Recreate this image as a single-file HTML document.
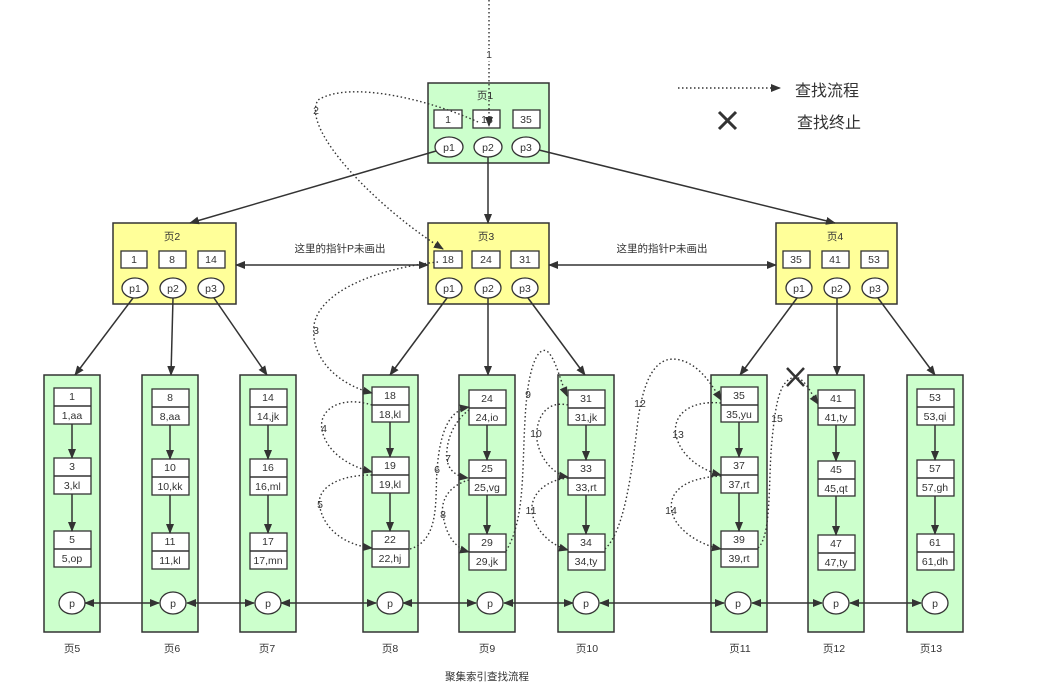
<!DOCTYPE html>
<html><head><meta charset="utf-8"><style>
html,body{margin:0;padding:0;background:#fff;}
svg{display:block;font-family:"Liberation Sans","Noto Sans CJK SC",sans-serif;}
.n{stroke:#333;stroke-width:1.5;}
.g{fill:#ccffcc;}
.y{fill:#ffff99;}
.c{fill:#fff;stroke:#333;stroke-width:1.3;}
.s{stroke:#333;stroke-width:1.5;fill:none;}
.d{stroke:#333;stroke-width:1.4;fill:none;stroke-dasharray:1.5 2.5;}
text{font-size:10.5px;fill:#333;text-anchor:middle;}
</style></head><body>
<svg width="1045" height="685" viewBox="0 0 1045 685">
<defs>
<marker id="a" markerWidth="10" markerHeight="10" refX="9" refY="5" orient="auto" markerUnits="userSpaceOnUse"><path d="M0,1 L10,5 L0,9 Z" fill="#333"/></marker>
<marker id="b" markerWidth="10" markerHeight="10" refX="1" refY="5" orient="auto" markerUnits="userSpaceOnUse"><path d="M10,1 L0,5 L10,9 Z" fill="#333"/></marker>
</defs>

<!-- legend -->
<line x1="678" y1="88" x2="780" y2="88" class="d" marker-end="url(#a)"/>
<text x="827" y="96" style="font-size:16px">查找流程</text>
<path d="M719,112 L736,129 M736,112 L719,129" stroke="#333" stroke-width="3"/>
<text x="829" y="128" style="font-size:16px">查找终止</text>

<!-- page1 -->
<rect x="428" y="83" width="121" height="80" class="n g"/>
<text x="485" y="99">页1</text>
<rect x="434" y="110" width="28" height="18" class="c"/><text x="448" y="123">1</text>
<rect x="473" y="110" width="27" height="18" class="c"/><text x="487" y="123">18</text>
<rect x="513" y="110" width="27" height="18" class="c"/><text x="526" y="123">35</text>
<ellipse cx="449" cy="147" rx="14" ry="10" class="c"/><text x="449" y="151">p1</text>
<ellipse cx="488" cy="147" rx="14" ry="10" class="c"/><text x="488" y="151">p2</text>
<ellipse cx="526" cy="147" rx="14" ry="10" class="c"/><text x="526" y="151">p3</text>

<!-- page2 -->
<rect x="113" y="223" width="123" height="81" class="n y"/>
<text x="172" y="240">页2</text>
<rect x="121" y="251" width="26" height="17" class="c"/><text x="134" y="263">1</text>
<rect x="159" y="251" width="27" height="17" class="c"/><text x="172" y="263">8</text>
<rect x="198" y="251" width="27" height="17" class="c"/><text x="211" y="263">14</text>
<ellipse cx="135" cy="288" rx="13" ry="10" class="c"/><text x="135" y="292">p1</text>
<ellipse cx="173" cy="288" rx="13" ry="10" class="c"/><text x="173" y="292">p2</text>
<ellipse cx="211" cy="288" rx="13" ry="10" class="c"/><text x="211" y="292">p3</text>

<!-- page3 -->
<rect x="428" y="223" width="121" height="81" class="n y"/>
<text x="486" y="240">页3</text>
<rect x="434" y="251" width="28" height="17" class="c"/><text x="448" y="263">18</text>
<rect x="472" y="251" width="28" height="17" class="c"/><text x="486" y="263">24</text>
<rect x="511" y="251" width="28" height="17" class="c"/><text x="525" y="263">31</text>
<ellipse cx="449" cy="288" rx="13" ry="10" class="c"/><text x="449" y="292">p1</text>
<ellipse cx="488" cy="288" rx="13" ry="10" class="c"/><text x="488" y="292">p2</text>
<ellipse cx="525" cy="288" rx="13" ry="10" class="c"/><text x="525" y="292">p3</text>

<!-- page4 -->
<rect x="776" y="223" width="121" height="81" class="n y"/>
<text x="835" y="240">页4</text>
<rect x="783" y="251" width="27" height="17" class="c"/><text x="796" y="263">35</text>
<rect x="822" y="251" width="27" height="17" class="c"/><text x="835" y="263">41</text>
<rect x="861" y="251" width="27" height="17" class="c"/><text x="874" y="263">53</text>
<ellipse cx="799" cy="288" rx="13" ry="10" class="c"/><text x="799" y="292">p1</text>
<ellipse cx="837" cy="288" rx="13" ry="10" class="c"/><text x="837" y="292">p2</text>
<ellipse cx="875" cy="288" rx="13" ry="10" class="c"/><text x="875" y="292">p3</text>

<!-- solid arrows -->
<line x1="436" y1="151" x2="190" y2="223" class="s" marker-end="url(#a)"/>
<line x1="488" y1="157" x2="488" y2="223" class="s" marker-end="url(#a)"/>
<line x1="539" y1="150" x2="835" y2="223" class="s" marker-end="url(#a)"/>
<line x1="236" y1="265" x2="428" y2="265" class="s" marker-start="url(#b)" marker-end="url(#a)"/>
<line x1="549" y1="265" x2="776" y2="265" class="s" marker-start="url(#b)" marker-end="url(#a)"/>
<text x="340" y="252">这里的指针P未画出</text>
<text x="662" y="252">这里的指针P未画出</text>

<line x1="133" y1="298" x2="75" y2="375" class="s" marker-end="url(#a)"/>
<line x1="173" y1="298" x2="171" y2="375" class="s" marker-end="url(#a)"/>
<line x1="214" y1="298" x2="267" y2="375" class="s" marker-end="url(#a)"/>
<line x1="447" y1="298" x2="390" y2="375" class="s" marker-end="url(#a)"/>
<line x1="488" y1="298" x2="488" y2="375" class="s" marker-end="url(#a)"/>
<line x1="528" y1="298" x2="585" y2="375" class="s" marker-end="url(#a)"/>
<line x1="797" y1="298" x2="740" y2="375" class="s" marker-end="url(#a)"/>
<line x1="837" y1="298" x2="837" y2="375" class="s" marker-end="url(#a)"/>
<line x1="878" y1="298" x2="935" y2="375" class="s" marker-end="url(#a)"/>

<!-- leaves -->
<g>
<rect x="44" y="375" width="56" height="257" class="n g"/>
<rect x="142" y="375" width="56" height="257" class="n g"/>
<rect x="240" y="375" width="56" height="257" class="n g"/>
<rect x="363" y="375" width="55" height="257" class="n g"/>
<rect x="459" y="375" width="56" height="257" class="n g"/>
<rect x="558" y="375" width="56" height="257" class="n g"/>
<rect x="711" y="375" width="56" height="257" class="n g"/>
<rect x="808" y="375" width="56" height="257" class="n g"/>
<rect x="907" y="375" width="56" height="257" class="n g"/>
</g>

<!-- bottom p chain -->
<line x1="85" y1="603" x2="159" y2="603" class="s" marker-start="url(#b)" marker-end="url(#a)"/>
<line x1="187" y1="603" x2="254" y2="603" class="s" marker-start="url(#b)" marker-end="url(#a)"/>
<line x1="281" y1="603" x2="376" y2="603" class="s" marker-start="url(#b)" marker-end="url(#a)"/>
<line x1="403" y1="603" x2="476" y2="603" class="s" marker-start="url(#b)" marker-end="url(#a)"/>
<line x1="504" y1="603" x2="573" y2="603" class="s" marker-start="url(#b)" marker-end="url(#a)"/>
<line x1="600" y1="603" x2="724" y2="603" class="s" marker-start="url(#b)" marker-end="url(#a)"/>
<line x1="752" y1="603" x2="822" y2="603" class="s" marker-start="url(#b)" marker-end="url(#a)"/>
<line x1="850" y1="603" x2="921" y2="603" class="s" marker-start="url(#b)" marker-end="url(#a)"/>
<g>
<ellipse cx="72" cy="603" rx="13" ry="11" class="c"/><text x="72" y="607">p</text>
<ellipse cx="173" cy="603" rx="13" ry="11" class="c"/><text x="173" y="607">p</text>
<ellipse cx="268" cy="603" rx="13" ry="11" class="c"/><text x="268" y="607">p</text>
<ellipse cx="390" cy="603" rx="13" ry="11" class="c"/><text x="390" y="607">p</text>
<ellipse cx="490" cy="603" rx="13" ry="11" class="c"/><text x="490" y="607">p</text>
<ellipse cx="586" cy="603" rx="13" ry="11" class="c"/><text x="586" y="607">p</text>
<ellipse cx="738" cy="603" rx="13" ry="11" class="c"/><text x="738" y="607">p</text>
<ellipse cx="836" cy="603" rx="13" ry="11" class="c"/><text x="836" y="607">p</text>
<ellipse cx="935" cy="603" rx="13" ry="11" class="c"/><text x="935" y="607">p</text>
</g>

<!-- leaf boxes: leaf5 -->
<rect x="54" y="388" width="37" height="36" class="c"/><line x1="54" y1="406" x2="91" y2="406" class="s"/><text x="72" y="400">1</text><text x="72" y="419">1,aa</text>
<rect x="54" y="458" width="37" height="36" class="c"/><line x1="54" y1="476" x2="91" y2="476" class="s"/><text x="72" y="470">3</text><text x="72" y="489">3,kl</text>
<rect x="54" y="531" width="37" height="36" class="c"/><line x1="54" y1="549" x2="91" y2="549" class="s"/><text x="72" y="543">5</text><text x="72" y="562">5,op</text>
<line x1="72" y1="424" x2="72" y2="458" class="s" marker-end="url(#a)"/>
<line x1="72" y1="494" x2="72" y2="531" class="s" marker-end="url(#a)"/>
<!-- leaf6 -->
<rect x="152" y="389" width="37" height="36" class="c"/><line x1="152" y1="407" x2="189" y2="407" class="s"/><text x="170" y="401">8</text><text x="170" y="420">8,aa</text>
<rect x="152" y="459" width="37" height="36" class="c"/><line x1="152" y1="477" x2="189" y2="477" class="s"/><text x="170" y="471">10</text><text x="170" y="490">10,kk</text>
<rect x="152" y="533" width="37" height="36" class="c"/><line x1="152" y1="551" x2="189" y2="551" class="s"/><text x="170" y="545">11</text><text x="170" y="564">11,kl</text>
<line x1="170" y1="425" x2="170" y2="459" class="s" marker-end="url(#a)"/>
<line x1="170" y1="495" x2="170" y2="533" class="s" marker-end="url(#a)"/>
<!-- leaf7 -->
<rect x="250" y="389" width="37" height="36" class="c"/><line x1="250" y1="407" x2="287" y2="407" class="s"/><text x="268" y="401">14</text><text x="268" y="420">14,jk</text>
<rect x="250" y="459" width="37" height="36" class="c"/><line x1="250" y1="477" x2="287" y2="477" class="s"/><text x="268" y="471">16</text><text x="268" y="490">16,ml</text>
<rect x="250" y="533" width="37" height="36" class="c"/><line x1="250" y1="551" x2="287" y2="551" class="s"/><text x="268" y="545">17</text><text x="268" y="564">17,mn</text>
<line x1="268" y1="425" x2="268" y2="459" class="s" marker-end="url(#a)"/>
<line x1="268" y1="495" x2="268" y2="533" class="s" marker-end="url(#a)"/>
<!-- leaf8 -->
<rect x="372" y="387" width="37" height="35" class="c"/><line x1="372" y1="405" x2="409" y2="405" class="s"/><text x="390" y="399">18</text><text x="390" y="418">18,kl</text>
<rect x="372" y="457" width="37" height="36" class="c"/><line x1="372" y1="475" x2="409" y2="475" class="s"/><text x="390" y="469">19</text><text x="390" y="488">19,kl</text>
<rect x="372" y="531" width="37" height="36" class="c"/><line x1="372" y1="549" x2="409" y2="549" class="s"/><text x="390" y="543">22</text><text x="390" y="562">22,hj</text>
<line x1="390" y1="422" x2="390" y2="457" class="s" marker-end="url(#a)"/>
<line x1="390" y1="493" x2="390" y2="531" class="s" marker-end="url(#a)"/>
<!-- leaf9 -->
<rect x="469" y="390" width="37" height="35" class="c"/><line x1="469" y1="408" x2="506" y2="408" class="s"/><text x="487" y="402">24</text><text x="487" y="421">24,io</text>
<rect x="469" y="460" width="37" height="35" class="c"/><line x1="469" y1="478" x2="506" y2="478" class="s"/><text x="487" y="472">25</text><text x="487" y="491">25,vg</text>
<rect x="469" y="534" width="37" height="36" class="c"/><line x1="469" y1="552" x2="506" y2="552" class="s"/><text x="487" y="546">29</text><text x="487" y="565">29,jk</text>
<line x1="487" y1="425" x2="487" y2="460" class="s" marker-end="url(#a)"/>
<line x1="487" y1="495" x2="487" y2="534" class="s" marker-end="url(#a)"/>
<!-- leaf10 -->
<rect x="568" y="390" width="37" height="35" class="c"/><line x1="568" y1="408" x2="605" y2="408" class="s"/><text x="586" y="402">31</text><text x="586" y="421">31,jk</text>
<rect x="568" y="460" width="37" height="35" class="c"/><line x1="568" y1="478" x2="605" y2="478" class="s"/><text x="586" y="472">33</text><text x="586" y="491">33,rt</text>
<rect x="568" y="534" width="37" height="36" class="c"/><line x1="568" y1="552" x2="605" y2="552" class="s"/><text x="586" y="546">34</text><text x="586" y="565">34,ty</text>
<line x1="586" y1="425" x2="586" y2="460" class="s" marker-end="url(#a)"/>
<line x1="586" y1="495" x2="586" y2="534" class="s" marker-end="url(#a)"/>
<!-- leaf11 -->
<rect x="721" y="387" width="37" height="35" class="c"/><line x1="721" y1="405" x2="758" y2="405" class="s"/><text x="739" y="399">35</text><text x="739" y="418">35,yu</text>
<rect x="721" y="457" width="37" height="36" class="c"/><line x1="721" y1="475" x2="758" y2="475" class="s"/><text x="739" y="469">37</text><text x="739" y="488">37,rt</text>
<rect x="721" y="531" width="37" height="36" class="c"/><line x1="721" y1="549" x2="758" y2="549" class="s"/><text x="739" y="543">39</text><text x="739" y="562">39,rt</text>
<line x1="739" y1="422" x2="739" y2="457" class="s" marker-end="url(#a)"/>
<line x1="739" y1="493" x2="739" y2="531" class="s" marker-end="url(#a)"/>
<!-- leaf12 -->
<rect x="818" y="390" width="37" height="35" class="c"/><line x1="818" y1="408" x2="855" y2="408" class="s"/><text x="836" y="402">41</text><text x="836" y="421">41,ty</text>
<rect x="818" y="461" width="37" height="35" class="c"/><line x1="818" y1="479" x2="855" y2="479" class="s"/><text x="836" y="473">45</text><text x="836" y="492">45,qt</text>
<rect x="818" y="535" width="37" height="35" class="c"/><line x1="818" y1="553" x2="855" y2="553" class="s"/><text x="836" y="547">47</text><text x="836" y="566">47,ty</text>
<line x1="836" y1="425" x2="836" y2="461" class="s" marker-end="url(#a)"/>
<line x1="836" y1="496" x2="836" y2="535" class="s" marker-end="url(#a)"/>
<!-- leaf13 -->
<rect x="917" y="389" width="37" height="36" class="c"/><line x1="917" y1="407" x2="954" y2="407" class="s"/><text x="935" y="401">53</text><text x="935" y="420">53,qi</text>
<rect x="917" y="460" width="37" height="36" class="c"/><line x1="917" y1="478" x2="954" y2="478" class="s"/><text x="935" y="472">57</text><text x="935" y="491">57,gh</text>
<rect x="917" y="534" width="37" height="36" class="c"/><line x1="917" y1="552" x2="954" y2="552" class="s"/><text x="935" y="546">61</text><text x="935" y="565">61,dh</text>
<line x1="935" y1="425" x2="935" y2="460" class="s" marker-end="url(#a)"/>
<line x1="935" y1="496" x2="935" y2="534" class="s" marker-end="url(#a)"/>

<!-- page labels -->
<text x="72" y="652">页5</text><text x="172" y="652">页6</text><text x="267" y="652">页7</text>
<text x="390" y="652">页8</text><text x="487" y="652">页9</text><text x="587" y="652">页10</text>
<text x="740" y="652">页11</text><text x="834" y="652">页12</text><text x="931" y="652">页13</text>
<text x="487" y="680">聚集索引查找流程</text>

<!-- dotted search path -->
<line x1="489" y1="0" x2="489" y2="126" class="d" marker-end="url(#a)"/>
<rect x="483" y="49" width="12" height="12" fill="#fff"/><text x="489" y="58">1</text>
<path d="M478,122 C430,100 350,80 318,100 C300,130 380,210 443,249" class="d" marker-end="url(#a)"/>
<text x="316" y="114">2</text>
<path d="M438,262 C380,268 320,290 314,325 C310,360 340,385 372,393" class="d" marker-end="url(#a)"/>
<text x="316" y="334">3</text>
<path d="M372,405 C340,395 318,410 322,430 C326,450 345,465 372,472" class="d" marker-end="url(#a)"/>
<text x="324" y="432">4</text>
<path d="M372,475 C335,475 315,490 320,508 C325,530 345,545 372,548" class="d" marker-end="url(#a)"/>
<text x="320" y="508">5</text>
<path d="M410,549 C440,540 435,500 437,470 C440,430 450,410 469,407" class="d" marker-end="url(#a)"/>
<text x="437" y="473">6</text>
<path d="M469,410 C455,420 445,440 447,460 C449,470 455,476 468,478" class="d" marker-end="url(#a)"/>
<text x="448" y="462">7</text>
<path d="M469,480 C450,485 440,500 443,515 C446,535 455,548 469,552" class="d" marker-end="url(#a)"/>
<text x="443" y="518">8</text>
<path d="M506,551 C525,520 522,470 525,420 C528,360 540,345 548,352 C556,360 560,380 567,396" class="d" marker-end="url(#a)"/>
<text x="528" y="398">9</text>
<path d="M568,405 C545,400 535,420 537,440 C540,460 555,475 568,477" class="d" marker-end="url(#a)"/>
<text x="536" y="437">10</text>
<path d="M568,478 C545,480 530,495 532,512 C535,530 550,545 568,550" class="d" marker-end="url(#a)"/>
<text x="531" y="514">11</text>
<path d="M605,549 C625,530 632,470 638,420 C645,370 660,355 680,360 C700,365 712,385 721,400" class="d" marker-end="url(#a)"/>
<text x="640" y="407">12</text>
<path d="M721,403 C690,400 672,415 676,435 C680,455 700,470 721,475" class="d" marker-end="url(#a)"/>
<text x="678" y="438">13</text>
<path d="M721,476 C680,478 668,495 672,512 C676,530 700,545 721,549" class="d" marker-end="url(#a)"/>
<text x="671" y="514">14</text>
<path d="M758,548 C772,535 768,480 772,440 C776,400 780,380 795,377 C805,378 812,395 818,404" class="d" marker-end="url(#a)"/>
<text x="777" y="422">15</text>
<path d="M787,368 L804,386 M804,368 L787,386" stroke="#333" stroke-width="2.5"/>
</svg>
</body></html>
